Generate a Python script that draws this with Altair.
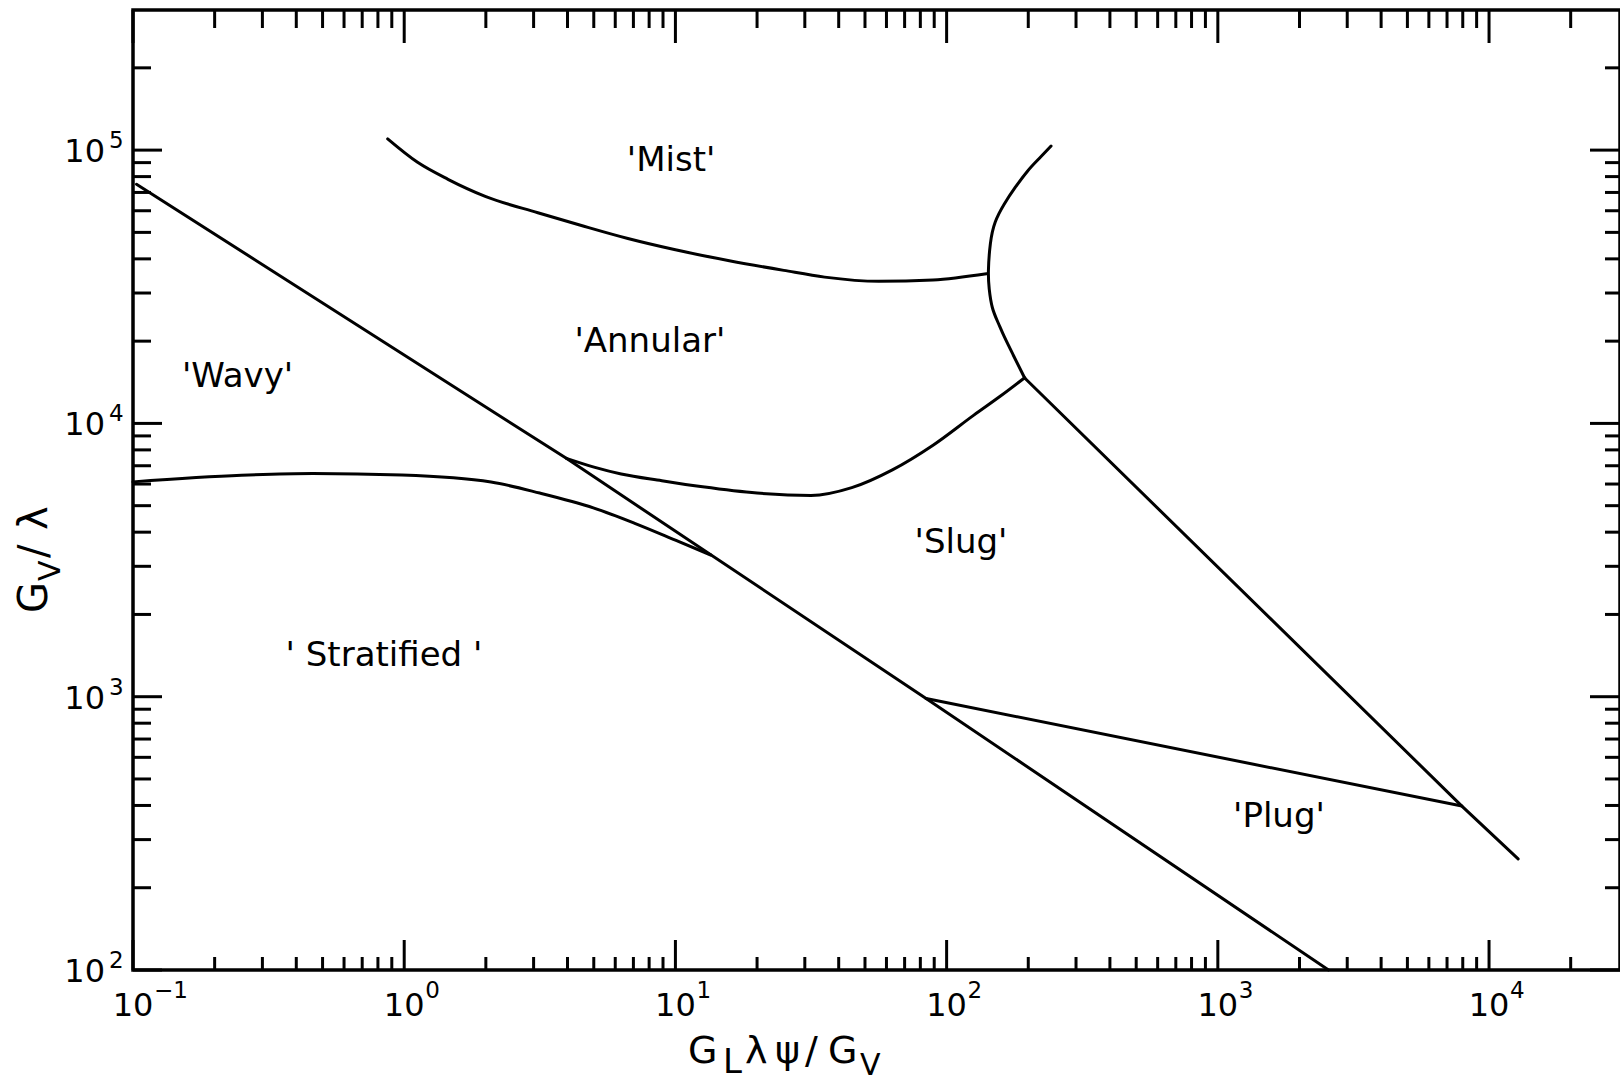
import altair as alt
import pandas as pd

FONT = "DejaVu Sans"

# ---- axis extents (log-log) ----
X_MIN, X_MAX = 0.1, 30400
Y_MIN, Y_MAX = 100, 325600
W, H = 1487, 960

# ---- regime boundary curves (x = G_L*lambda*psi/G_V, y = G_V/lambda) ----
diag_x = [0.103, 3.96, 84, 2560]
diag_y = [75000, 7450, 985, 100]

strat_x = [0.1, 0.251, 0.46, 0.98, 2.09, 3.16, 5.01, 7.08, 10.0, 13.5]
strat_y = [6110, 6460, 6560, 6470, 6100, 5560, 4900, 4310, 3740, 3300]

annslug_x = [3.96, 5.01, 6.31, 8.91, 12.6, 20.0, 31.6, 44.7, 63.1, 89.1, 126, 158, 194]
annslug_y = [7450, 6920, 6530, 6170, 5860, 5560, 5450, 5820, 6760, 8320, 10720, 12590, 14690]

mist_x = [0.869, 1.12, 1.45, 2.0, 3.11, 4.47, 6.68, 10.0, 15.8, 25.1, 35.5, 56.2, 89.1, 140.3]
mist_y = [109900, 90200, 78200, 67600, 59000, 53100, 47500, 43200, 39400, 36300, 34300, 33100, 33500, 35300]

arc_x = [242.7, 219, 199, 179, 163, 151, 145, 142.6, 143.6, 147.5, 155, 163, 176, 194]
arc_y = [103500, 93000, 83900, 73000, 63400, 54500, 45500, 36300, 31000, 26500, 23300, 20800, 17800, 14660]

right_x = [194, 7940, 12800]
right_y = [14660, 398, 255]

plug_x = [84, 7940]
plug_y = [985, 398]

# ---- region labels ----
lab_text = ["'Mist'", "'Annular'", "'Wavy'", "'Slug'", "' Stratified '", "'Plug'"]
lab_x = [9.64, 8.05, 0.243, 113, 0.842, 1680]
lab_y = [84200, 18200, 13600, 3360, 1290, 335]

# ---- ticks ----
x_major = [0.1, 1, 10, 100, 1000, 10000]
x_exp = ["\u22121", "0", "1", "2", "3", "4"]
x_minor = [m * 10.0 ** e for e in range(-1, 4) for m in range(2, 10)] + [20000]
y_major = [100, 1000, 10000, 100000]
y_exp = ["2", "3", "4", "5"]
y_minor = [m * 10.0 ** e for e in range(2, 5) for m in range(2, 10)] + [200000]


def frame(name, xs, ys):
    return pd.DataFrame({"x": xs, "y": ys, "curve": name, "order": list(range(len(xs)))})


X = alt.X("x:Q", scale=alt.Scale(type="log", domain=[X_MIN, X_MAX]), axis=None)
Y = alt.Y("y:Q", scale=alt.Scale(type="log", domain=[Y_MIN, Y_MAX]), axis=None)


def curve_layer(df, interp):
    return alt.Chart(df).mark_line(
        color="black", strokeWidth=3, interpolate=interp, strokeCap="round", strokeJoin="round"
    ).encode(x=X, y=Y, detail="curve:N", order="order:Q")


straight = pd.concat([frame("diag", diag_x, diag_y), frame("right", right_x, right_y),
                      frame("plug", plug_x, plug_y)])
smooth = pd.concat([frame("strat", strat_x, strat_y), frame("annslug", annslug_x, annslug_y),
                    frame("mist", mist_x, mist_y)])
arc = frame("arc", arc_x, arc_y)

lines = [curve_layer(straight, "linear"), curve_layer(smooth, "monotone"), curve_layer(arc, "natural")]

labels = alt.Chart(pd.DataFrame({"x": lab_x, "y": lab_y, "t": lab_text})).mark_text(
    font=FONT, fontSize=34, color="black", align="center", baseline="alphabetic"
).encode(x=X, y=Y, text="t:N")

TW = 3


def xticks(vals, y0, y1):
    return alt.Chart(pd.DataFrame({"x": vals})).mark_rule(color="black", strokeWidth=TW).encode(
        x=X, y=alt.value(y0), y2=alt.value(y1))


def yticks(vals, x0, x1):
    return alt.Chart(pd.DataFrame({"y": vals})).mark_rule(color="black", strokeWidth=TW).encode(
        y=Y, x=alt.value(x0), x2=alt.value(x1))


ticks = [
    xticks(x_major, H, H - 30), xticks(x_minor, H, H - 13),
    xticks(x_major, 0, 33), xticks(x_minor, 0, 18),
    yticks(y_major, 0, 29), yticks(y_minor, 0, 18),
    yticks(y_major, W, W - 30), yticks(y_minor, W, W - 15),
]

xl = pd.DataFrame({"x": x_major, "e": x_exp, "b": ["10"] * len(x_major)})
x_base = alt.Chart(xl).mark_text(font=FONT, fontSize=32, align="center", baseline="alphabetic",
                                 color="black").encode(x=X, y=alt.value(1006), text="b:N")
x_sup = alt.Chart(xl).mark_text(font=FONT, fontSize=23, align="left", baseline="alphabetic",
                                dx=21, color="black").encode(x=X, y=alt.value(988), text="e:N")

yl = pd.DataFrame({"y": y_major, "e": y_exp, "b": ["10"] * len(y_major)})
y_base = alt.Chart(yl).mark_text(font=FONT, fontSize=32, align="right", baseline="alphabetic",
                                 dy=12, color="black").encode(y=Y, x=alt.value(-28), text="b:N")
y_sup = alt.Chart(yl).mark_text(font=FONT, fontSize=23, align="left", baseline="alphabetic",
                                dy=-2, color="black").encode(y=Y, x=alt.value(-24), text="e:N")


def part(s, x, y, size, angle=0):
    kw = {"angle": angle} if angle else {}
    return alt.Chart(pd.DataFrame({"t": [s]})).mark_text(
        font=FONT, fontSize=size, align="left", baseline="alphabetic", color="black", **kw
    ).encode(x=alt.value(x), y=alt.value(y), text="t:N")


title_parts = [
    # bottom title  G_L λ ψ / G_V
    part("G", 555, 1053, 38), part("L", 590, 1063, 34), part("\u03bb", 612, 1053, 38),
    part("\u03c8", 642, 1053, 38), part("/", 672, 1053, 38), part("G", 695, 1053, 38),
    part("V", 727, 1065, 30),
    # left title  G_V / λ (rotated)
    part("G", -86, 603, 40, 270), part("V", -73, 571, 30, 270),
    part("/", -86, 548, 40, 270), part("\u03bb", -86, 520, 40, 270),
]

chart = alt.layer(*lines, labels, *ticks, x_base, x_sup, y_base, y_sup, *title_parts).properties(
    width=W, height=H,
    padding={"left": 133, "top": 10, "right": 0, "bottom": 112},
    autosize=alt.AutoSizeParams(type="none"),
    background="white",
).configure_view(stroke="black", strokeWidth=3.5)

chart.save("out.html", embed_options={"renderer": "svg", "actions": False})
